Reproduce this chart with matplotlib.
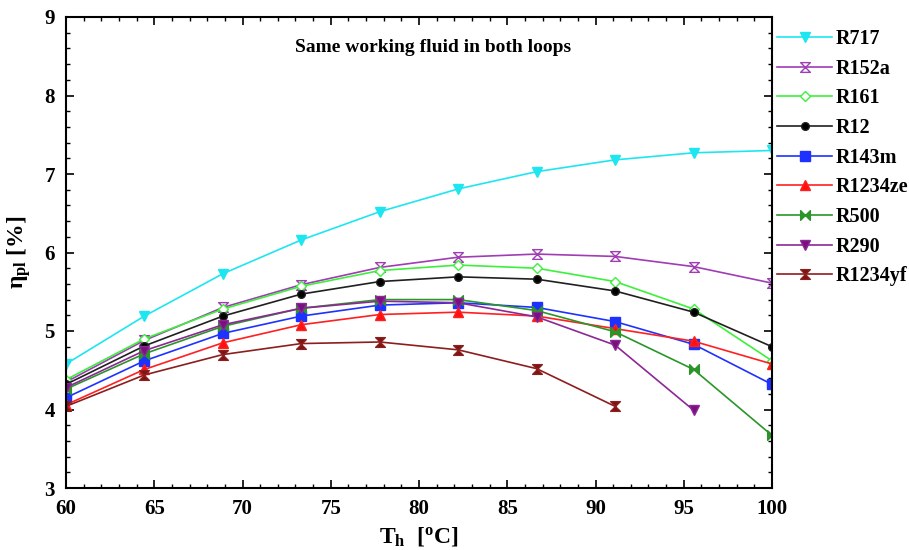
import matplotlib
matplotlib.use("Agg")
import matplotlib.pyplot as plt
from matplotlib.path import Path
from matplotlib.ticker import MultipleLocator

plt.rcParams['font.family'] = ['Liberation Serif', 'DejaVu Serif']
plt.rcParams['font.weight'] = 'bold'
plt.rcParams['mathtext.fontset'] = 'custom'
plt.rcParams['mathtext.rm'] = 'Liberation Serif:bold'
plt.rcParams['mathtext.bf'] = 'Liberation Serif:bold'
plt.rcParams['mathtext.it'] = 'Liberation Serif:bold'

T = [60, 64.44, 68.89, 73.33, 77.78, 82.22, 86.67, 91.11, 95.56, 100]

R717    = [4.58, 5.19, 5.73, 6.16, 6.52, 6.81, 7.03, 7.18, 7.27, 7.30]
R152a   = [4.35, 4.88, 5.30, 5.59, 5.81, 5.94, 5.98, 5.95, 5.82, 5.61]
R161    = [4.38, 4.90, 5.28, 5.57, 5.77, 5.84, 5.80, 5.63, 5.28, 4.62]
R12     = [4.32, 4.81, 5.19, 5.47, 5.63, 5.69, 5.66, 5.51, 5.24, 4.80]
R143m   = [4.15, 4.62, 4.97, 5.19, 5.33, 5.36, 5.30, 5.12, 4.83, 4.32]
R1234ze = [4.06, 4.51, 4.85, 5.08, 5.21, 5.24, 5.19, 5.03, 4.87, 4.58]
R500    = [4.26, 4.71, 5.06, 5.29, 5.40, 5.40, 5.26, 4.99, 4.51, 3.67]
R290    = [4.28, 4.75, 5.08, 5.29, 5.38, 5.36, 5.18, 4.82, 3.99]
R1234yf = [4.04, 4.44, 4.70, 4.84, 4.86, 4.76, 4.52, 4.04]

names = ['R717', 'R152a', 'R161', 'R12', 'R143m', 'R1234ze', 'R500', 'R290', 'R1234yf']
series = [R717, R152a, R161, R12, R143m, R1234ze, R500, R290, R1234yf]

hourglass = Path([(-1, 1), (1, 1), (-1, -1), (1, -1), (-1, 1)],
                 [Path.MOVETO, Path.LINETO, Path.LINETO, Path.LINETO, Path.CLOSEPOLY])
bowtie = Path([(-1, 1), (-1, -1), (1, 1), (1, -1), (-1, 1)],
              [Path.MOVETO, Path.LINETO, Path.LINETO, Path.LINETO, Path.CLOSEPOLY])

styles = [
    dict(color='#1ee6f0', marker='v', mfc='#1ee6f0', ms=7),
    dict(color='#a03cb4', marker=hourglass, mfc='white', ms=7),
    dict(color='#3cf03c', marker='D', mfc='white', ms=5.5),
    dict(color='#202020', marker='o', mfc='black', ms=5.5),
    dict(color='#1e32ff', marker='s', mfc='#1e32ff', ms=6.5),
    dict(color='#ff2020', marker='^', mfc='#ff1010', ms=7),
    dict(color='#2a962a', marker=bowtie, mfc='#2a962a', ms=7),
    dict(color='#8c2896', marker='v', mfc='#7a1080', ms=7),
    dict(color='#8c1e1e', marker=hourglass, mfc='#7a1414', ms=7),
]

fig = plt.figure(figsize=(9.09, 5.5), dpi=100)
ax = fig.add_axes([66/909, 62/550, (772-66)/909, (488-17)/550])

for name, ys, st in zip(names, series, styles):
    ax.plot(T[:len(ys)], ys, label=name, lw=1.2, mec=st['color'], mew=1.0,
            color=st['color'], marker=st['marker'], mfc=st['mfc'], ms=st['ms'])

ax.set_xlim(60, 100)
ax.set_ylim(3, 9)
ax.xaxis.set_major_locator(MultipleLocator(5))
ax.xaxis.set_minor_locator(MultipleLocator(1))
ax.yaxis.set_major_locator(MultipleLocator(1))
ax.yaxis.set_minor_locator(MultipleLocator(0.2))
ax.tick_params(which='both', direction='in', top=True, right=True)
ax.tick_params(which='major', length=6, width=1.2, labelsize=15, pad=8)
ax.tick_params(which='minor', length=3, width=1.0)
for lbl in ax.get_xticklabels() + ax.get_yticklabels():
    lbl.set_fontweight('bold')
for s in ax.spines.values():
    s.set_linewidth(1.5)

ax.set_xlabel(r'$\mathbf{T_h}$  [$^{\mathbf{o}}$C]', fontsize=17, fontweight='bold', labelpad=4)
ax.set_ylabel(r'$\mathbf{\eta_{pl}}$ [%]', fontsize=17, fontweight='bold', labelpad=8)

ax.text(0.52, 0.935, 'Same working fluid in both loops', transform=ax.transAxes,
        ha='center', va='center', fontsize=14, fontweight='bold')

leg = fig.legend(*ax.get_legend_handles_labels(), loc='upper left',
                 bbox_to_anchor=(777/909, 1 - 29/550), frameon=False,
                 fontsize=14.5, handlelength=2.75, handletextpad=0.15,
                 labelspacing=0.48, borderaxespad=0.0, borderpad=0.0)
for t in leg.get_texts():
    t.set_fontweight('bold')

fig.savefig('out.png', dpi=100)
